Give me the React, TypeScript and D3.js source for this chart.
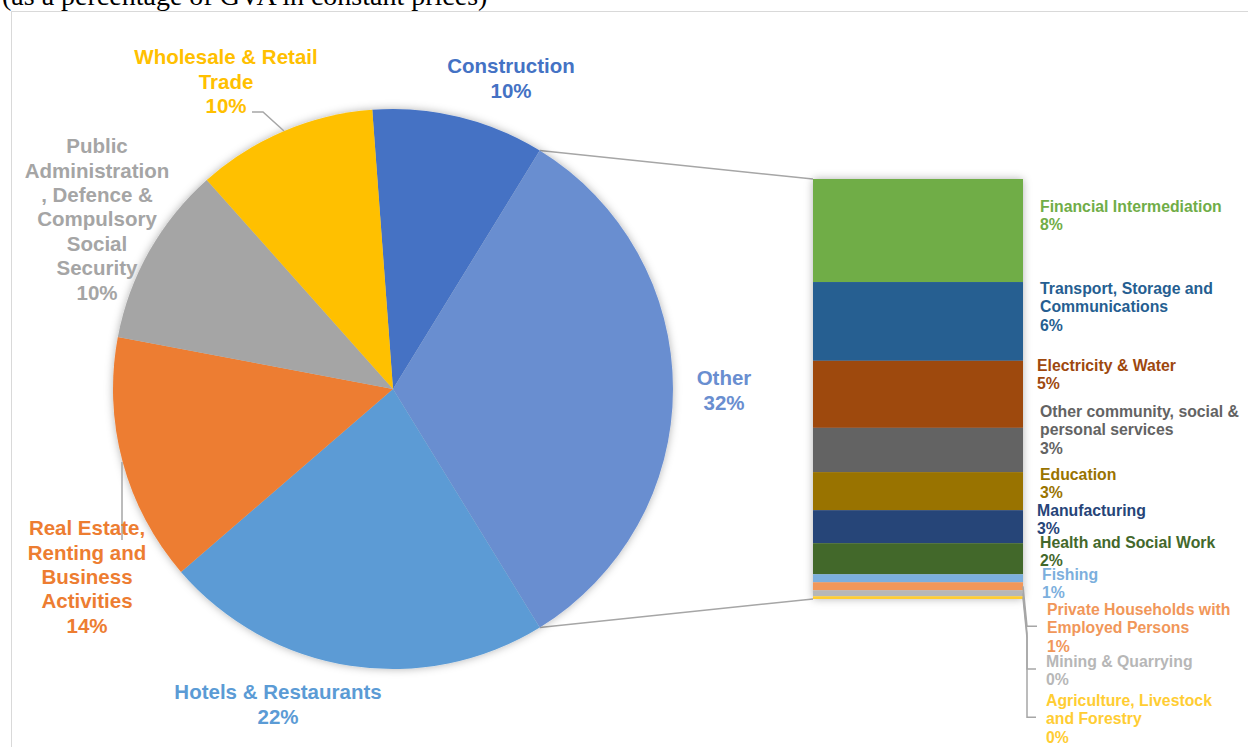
import React from "react";
import * as d3 from "d3";

// ---------- DATA ----------
const pieCategories = [
  "Construction",
  "Other",
  "Hotels & Restaurants",
  "Real Estate, Renting and Business Activities",
  "Public Administration, Defence & Compulsory Social Security",
  "Wholesale & Retail Trade",
];
// value of "Other" is the sum of barValues
const pieValuesMain = [9.96, null, 22.45, 14.3, 10.45, 10.4];
const pieColors = ["#4472C4", "#698ED0", "#5B9BD5", "#ED7D31", "#A5A5A5", "#FFC000"];
const pieLabelLines = [
  ["Construction"],
  ["Other"],
  ["Hotels & Restaurants"],
  ["Real Estate,", "Renting and", "Business", "Activities"],
  ["Public", "Administration", ", Defence &", "Compulsory", "Social", "Security"],
  ["Wholesale & Retail", "Trade"],
];

const barCategories = [
  "Financial Intermediation",
  "Transport, Storage and Communications",
  "Electricity & Water",
  "Other community, social & personal services",
  "Education",
  "Manufacturing",
  "Health and Social Work",
  "Fishing",
  "Private Households with Employed Persons",
  "Mining & Quarrying",
  "Agriculture, Livestock and Forestry",
];
const barValues = [7.96, 6.08, 5.18, 3.42, 2.94, 2.55, 2.4, 0.62, 0.62, 0.46, 0.21];
const barColors = [
  "#70AD47", "#255E91", "#9E480E", "#636363", "#997300", "#264478",
  "#43682B", "#7CAFDD", "#F1975A", "#B7B7B7", "#FFCD33",
];
const barLabelLines = [
  ["Financial Intermediation"],
  ["Transport, Storage and", "Communications"],
  ["Electricity & Water"],
  ["Other community, social &", "personal services"],
  ["Education"],
  ["Manufacturing"],
  ["Health and Social Work"],
  ["Fishing"],
  ["Private Households with", "Employed Persons"],
  ["Mining & Quarrying"],
  ["Agriculture, Livestock", "and Forestry"],
];

const titleText = "(as a percentage of GVA in constant prices)";

// ---------- LAYOUT ----------
const W = 1248;
const H = 747;
const cx = 393;
const cy = 389;
const R = 280;
const barX0 = 813;
const barX1 = 1023;
const barTop = 179;
const barBottom = 599;

// first-line centre of each pie label
const pieLabelPos: [number, number][] = [
  [511, 66],
  [724, 378],
  [278, 692],
  [87, 528],
  [97, 146],
  [226, 57],
];
const pieLineH = 24.4;
const pieFont = 20.5;

const barLabelPos: [number, number][] = [
  [1040, 206],
  [1040, 288],
  [1037, 365],
  [1040, 411],
  [1040, 474],
  [1037, 510],
  [1040, 542],
  [1042, 574],
  [1047, 609],
  [1046, 661],
  [1046, 700],
];
const barLineH = 18.6;
const barFont = 15.8;

const FONT = "'Liberation Sans', Arial, Helvetica, sans-serif";
const leaderColor = "#A6A6A6";

export default function App() {
  const otherTotal = d3.sum(barValues);
  const pieValues = pieValuesMain.map((v) => (v == null ? otherTotal : v)) as number[];
  const total = d3.sum(pieValues);
  const otherIdx = 1;
  const before = d3.sum(pieValues.slice(0, otherIdx));
  const start = Math.PI / 2 - (before / total) * 2 * Math.PI - (otherTotal / total) * Math.PI;

  const arcs = d3
    .pie<number>()
    .sort(null)
    .value((d) => d)
    .startAngle(start)
    .endAngle(start + 2 * Math.PI)(pieValues);
  const arcGen = d3.arc<d3.PieArcDatum<number>>().innerRadius(0).outerRadius(R);

  const oArc = arcs[otherIdx];
  const p0: [number, number] = [cx + R * Math.sin(oArc.startAngle), cy - R * Math.cos(oArc.startAngle)];
  const p1: [number, number] = [cx + R * Math.sin(oArc.endAngle), cy - R * Math.cos(oArc.endAngle)];

  const yScale = d3.scaleLinear().domain([0, otherTotal]).range([barTop, barBottom]);
  const cum = d3.cumsum(barValues);
  const segs = barValues.map((v, i) => ({
    y0: yScale(cum[i] - v),
    y1: yScale(cum[i]),
    v,
  }));

  const pct = (v: number) => `${Math.round((v / total) * 100)}%`;

  // small-slice leader lines (Private households, Mining, Agriculture)
  const smallLeaders = [8, 9, 10].map((i) => {
    const mid = (segs[i].y0 + segs[i].y1) / 2;
    const ly = barLabelPos[i][1] + (barLineH * (barLabelLines[i].length - 1)) / 2 + 8;
    const tx = barLabelPos[i][0] - 10;
    return `M${barX1},${mid} L${barX1 + 4},${Math.max(mid + 40, 626)} L${barX1 + 4},${ly} L${tx},${ly}`;
  });

  return (
    <div style={{ position: "absolute", left: 0, top: 0 }}>
      <svg width={W} height={H} viewBox={`0 0 ${W} ${H}`} style={{ display: "block", background: "#fff" }}>
        <defs>
          <filter id="shadow" x="-10%" y="-10%" width="120%" height="120%">
            <feDropShadow dx="0" dy="0" stdDeviation="4" floodColor="#000" floodOpacity="0.3" />
          </filter>
        </defs>
        <text x={2} y={5} fontFamily="'Liberation Serif', 'Times New Roman', serif" fontSize={28} fill="#000">
          {titleText}
        </text>
        <rect x={11.5} y={11.5} width={W + 20} height={H + 20} fill="none" stroke="#D9D9D9" strokeWidth={1} />

        {/* connector lines */}
        <line x1={p0[0]} y1={p0[1]} x2={barX0} y2={barTop} stroke={leaderColor} strokeWidth={1.5} />
        <line x1={p1[0]} y1={p1[1]} x2={barX0} y2={barBottom} stroke={leaderColor} strokeWidth={1.5} />

        {/* pie */}
        <g transform={`translate(${cx},${cy})`} filter="url(#shadow)">
          {arcs.map((a, i) => (
            <path key={pieCategories[i]} d={arcGen(a) || ""} fill={pieColors[i]} />
          ))}
        </g>

        {/* bar */}
        <g filter="url(#shadow)">
          {segs.map((s, i) => (
            <rect key={barCategories[i]} x={barX0} y={s.y0} width={barX1 - barX0} height={Math.max(0, s.y1 - s.y0)} fill={barColors[i]} />
          ))}
        </g>

        {/* leaders */}
        <path d="M252,112 L263,112 L284,131" fill="none" stroke={leaderColor} strokeWidth={1.5} />
        <path d="M122,462 L122,540" fill="none" stroke={leaderColor} strokeWidth={1.5} />
        {smallLeaders.map((d, i) => (
          <path key={i} d={d} fill="none" stroke={leaderColor} strokeWidth={1.5} />
        ))}

        {/* pie labels */}
        {pieLabelLines.map((lines, i) => {
          const all = [...lines, pct(pieValues[i])];
          const [x, y] = pieLabelPos[i];
          return (
            <text key={i} fontFamily={FONT} fontWeight="bold" fontSize={pieFont} fill={pieColors[i]} textAnchor="middle">
              {all.map((t, j) => (
                <tspan key={j} x={x} y={y + j * pieLineH + pieFont * 0.35}>
                  {t}
                </tspan>
              ))}
            </text>
          );
        })}

        {/* bar labels */}
        {barLabelLines.map((lines, i) => {
          const all = [...lines, pct(barValues[i])];
          const [x, y] = barLabelPos[i];
          return (
            <text key={i} fontFamily={FONT} fontWeight="bold" fontSize={barFont} fill={barColors[i]} textAnchor="start">
              {all.map((t, j) => (
                <tspan key={j} x={x} y={y + j * barLineH + barFont * 0.35}>
                  {t}
                </tspan>
              ))}
            </text>
          );
        })}
      </svg>
    </div>
  );
}
